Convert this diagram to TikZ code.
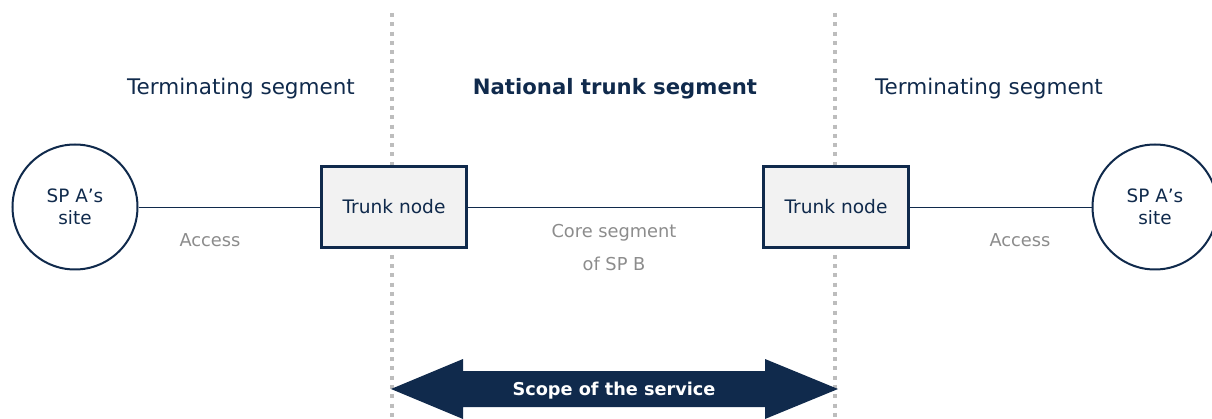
\documentclass[tikz,border=0pt]{standalone}
\usepackage{fontspec}
\setmainfont{DejaVu Sans}
\definecolor{navy}{HTML}{102A4C}
\definecolor{boxfill}{HTML}{F2F2F2}
\definecolor{labelgray}{HTML}{8C8C8C}
\definecolor{dotgray}{HTML}{BDBDBD}
\begin{document}
\begin{tikzpicture}[x=1pt,y=-1pt,
  site/.style={circle,draw=navy,line width=2pt,minimum size=125pt,inner sep=0pt,align=center,
    text=navy,font=\fontsize{18.4}{22}\selectfont},
  trunk/.style={rectangle,draw=navy,line width=2.2pt,fill=boxfill,minimum width=145pt,minimum height=81pt,
    text=navy,font=\fontsize{18.6}{21}\selectfont},
  link/.style={draw=navy,line width=0.9pt},
  header/.style={text=navy,font=\fontsize{21.5}{24}\selectfont},
  boldheader/.style={text=navy,font=\fontsize{21.2}{24}\selectfont\bfseries},
  label/.style={text=labelgray,font=\fontsize{17.8}{33}\selectfont,align=center},
  divider/.style={draw=dotgray,line width=4pt,dash pattern=on 4pt off 5.3pt},
  scopearrow/.style={fill=navy,draw=none}]
\useasboundingbox (0,0) rectangle (1212,419);

% segment dividers
\draw[divider] (392,13) -- (392,419);
\draw[divider] (835,13) -- (835,419);

% segment titles
\node[header] (tl) at (241,89) {Terminating segment};
\node[boldheader] (tc) at (615,89) {National trunk segment};
\node[header] (tr) at (989,89) {Terminating segment};

% sites and trunk nodes
\node[site] (siteL) at (75,207) {SP A’s\\site};
\node[site] (siteR) at (1155,207) {SP A’s\\site};
\node[trunk] (trunkL) at (394,207) {Trunk node};
\node[trunk] (trunkR) at (836,207) {Trunk node};

% links
\draw[link] (siteL.east) -- (trunkL.west);
\draw[link] (trunkL.east) -- (trunkR.west);
\draw[link] (trunkR.east) -- (siteR.west);

% link labels
\node[label] (accL) at (210,240) {Access};
\node[label] (core) at (614,248) {Core segment\\of SP B};
\node[label] (accR) at (1020,240) {Access};

% scope of the service
\coordinate (tipL) at (391,389);
\coordinate (tipR) at (838,389);
\fill[scopearrow] (tipL) -- (463,359) -- (463,371) -- (765,371) -- (765,359) -- (tipR)
  -- (765,419) -- (765,407) -- (463,407) -- (463,419) -- cycle;
\node[text=white,font=\fontsize{17.7}{20}\selectfont\bfseries] (scope) at (614,391) {Scope of the service};
\end{tikzpicture}
\end{document}
